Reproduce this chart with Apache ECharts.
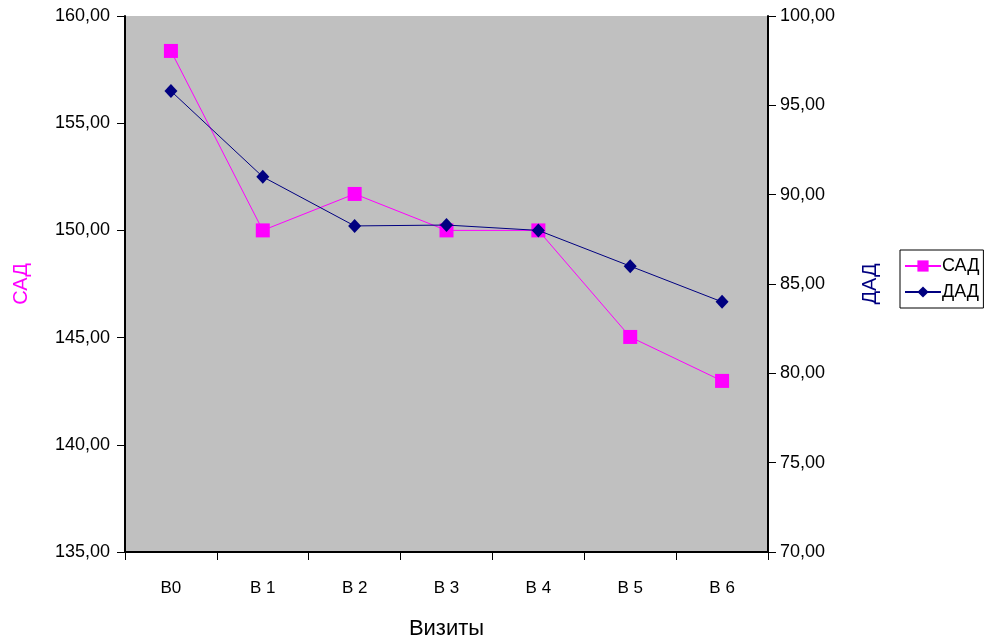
<!DOCTYPE html>
<html>
<head>
<meta charset="utf-8">
<script src="https://cdn.jsdelivr.net/npm/echarts@6/dist/echarts.min.js"></script>
<style>
  html, body { margin: 0; padding: 0; background: #fff; }
  #chart { width: 996px; height: 641px; }
</style>
</head>
<body>
<div id="chart"></div>
<script>
// ── Data ───────────────────────────────────────────────
const visits    = ['В0', 'В 1', 'В 2', 'В 3', 'В 4', 'В 5', 'В 6'];
const sadValues = [158.37, 150.0, 151.7, 150.0, 150.0, 145.03, 142.98];
const dadValues = [95.8, 91.0, 88.25, 88.3, 88.0, 86.0, 84.0];

// ── Style ──────────────────────────────────────────────
const FONT    = "'Liberation Sans', Arial, sans-serif";
const MAGENTA = '#FF00FF';
const NAVY    = '#000080';

const fmt = v => v.toFixed(2).replace('.', ',');

const chart = echarts.init(document.getElementById('chart'));

chart.setOption({
  backgroundColor: '#FFFFFF',
  animation: false,
  grid: {
    left: 125, right: 228, top: 16, bottom: 89,
    outerBoundsMode: 'none',
    show: true, backgroundColor: '#C0C0C0', borderWidth: 0,
  },
  legend: {
    orient: 'vertical',
    left: 900, top: 250,
    padding: [7, 4, 7, 4],
    itemGap: 8,
    itemWidth: 36, itemHeight: 14,
    borderColor: '#000', borderWidth: 1,
    backgroundColor: '#fff',
    textStyle: { fontFamily: FONT, fontSize: 18, color: '#000', padding: [0, 0, 0, -4] },
    data: ['САД', 'ДАД'],
  },
  xAxis: {
    type: 'category',
    data: visits,
    name: 'Визиты',
    nameLocation: 'middle',
    nameGap: 66,
    nameTextStyle: { fontFamily: FONT, fontSize: 22, color: '#000' },
    axisLine: { lineStyle: { color: '#000', width: 2 } },
    axisTick: { show: true, alignWithLabel: false, length: 8, inside: false, lineStyle: { color: '#000', width: 1 } },
    axisLabel: { fontFamily: FONT, fontSize: 17, color: '#000', margin: 28 },
    splitLine: { show: false },
  },
  yAxis: [{
    type: 'value',
    min: 135, max: 160, interval: 5,
    position: 'left',
    name: 'САД',
    nameLocation: 'middle',
    nameGap: 94,
    nameRotate: 90,
    nameTextStyle: { fontFamily: FONT, fontSize: 20, color: MAGENTA },
    axisLine: { show: true, lineStyle: { color: '#000', width: 2 } },
    axisTick: { show: true, length: 8, lineStyle: { color: '#000', width: 1 } },
    axisLabel: { fontFamily: FONT, fontSize: 18, color: '#000', margin: 15, formatter: fmt },
    splitLine: { show: false },
  }, {
    type: 'value',
    min: 70, max: 100, interval: 5,
    position: 'right',
    name: 'ДАД',
    nameLocation: 'middle',
    nameGap: 92,
    nameRotate: 90,
    nameTextStyle: { fontFamily: FONT, fontSize: 20, color: NAVY },
    axisLine: { show: true, lineStyle: { color: '#000', width: 2 } },
    axisTick: { show: true, length: 8, lineStyle: { color: '#000', width: 1 } },
    axisLabel: { fontFamily: FONT, fontSize: 18, color: '#000', margin: 12, formatter: fmt },
    splitLine: { show: false },
  }],
  series: [{
    name: 'САД',
    type: 'line',
    yAxisIndex: 0,
    data: sadValues,
    symbol: 'rect',
    symbolSize: 14,
    color: MAGENTA,
    lineStyle: { color: MAGENTA, width: 1 },
    itemStyle: { color: MAGENTA },
    z: 3,
  }, {
    name: 'ДАД',
    type: 'line',
    yAxisIndex: 1,
    data: dadValues,
    symbol: 'diamond',
    symbolSize: [13, 14],
    color: NAVY,
    lineStyle: { color: NAVY, width: 1 },
    itemStyle: { color: NAVY },
    z: 4,
  }],
});
</script>
</body>
</html>
